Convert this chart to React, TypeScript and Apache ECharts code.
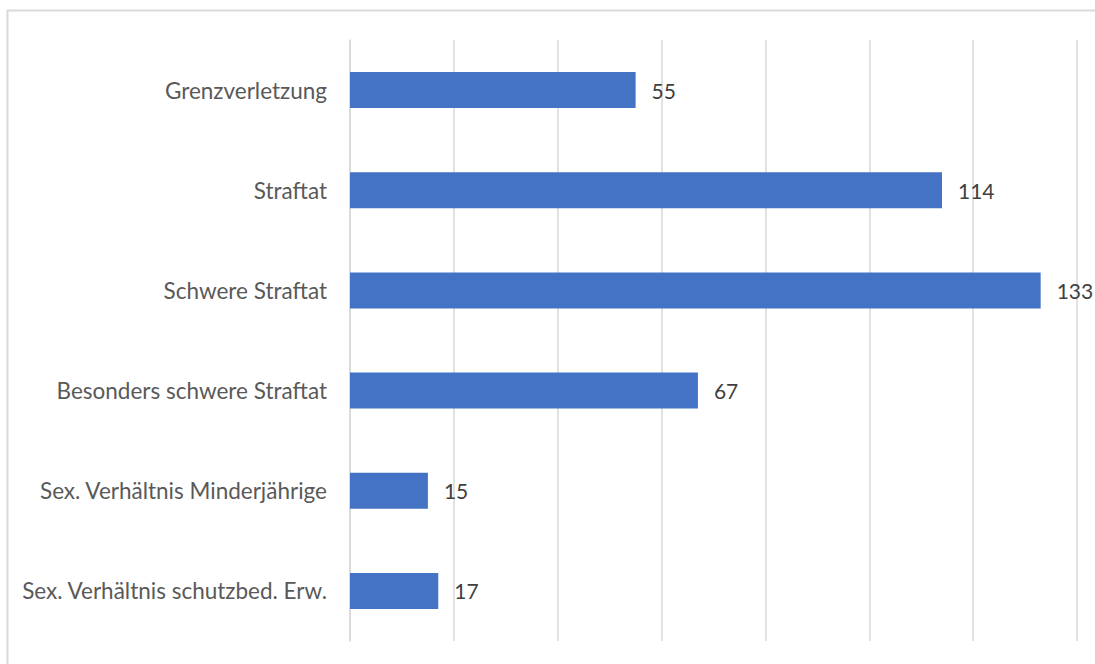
import React, { useEffect, useRef } from "react";
import * as echarts from "echarts";

const categories = [
  "Grenzverletzung",
  "Straftat",
  "Schwere Straftat",
  "Besonders schwere Straftat",
  "Sex. Verhältnis Minderjährige",
  "Sex. Verhältnis schutzbed. Erw.",
];
const values = [55, 114, 133, 67, 15, 17];

export default function App() {
  const ref = useRef<HTMLDivElement>(null);
  useEffect(() => {
    const chart = echarts.init(ref.current!, null, { renderer: "svg" });
    chart.setOption({
      animation: false,
      backgroundColor: "#ffffff",
      textStyle: { fontFamily: "Lato" },
      graphic: [
        {
          type: "rect",
          shape: { x: 7.5, y: 10.5, width: 1200, height: 800 },
          style: { fill: "none", stroke: "#d9d9d9", lineWidth: 2 },
          silent: true,
          z: -1,
        },
      ],
      grid: { left: 350, right: 18, top: 40, bottom: 23 },
      xAxis: {
        type: "value",
        min: 0,
        max: 140,
        interval: 20,
        axisLabel: { show: false },
        axisLine: { show: false },
        axisTick: { show: false },
        splitLine: { show: true, lineStyle: { color: "#d9d9d9", width: 1.5 } },
      },
      yAxis: {
        type: "category",
        inverse: true,
        data: categories,
        axisLine: { show: true, lineStyle: { color: "#d9d9d9", width: 1.5 } },
        axisTick: { show: false },
        axisLabel: { color: "#595959", fontSize: 22.5, margin: 23, fontFamily: "Lato" },
      },
      series: [
        {
          type: "bar",
          data: values,
          barWidth: 36,
          itemStyle: { color: "#4472C4" },
          label: {
            show: true,
            position: "right",
            distance: 16,
            color: "#404040",
            fontSize: 21,
            fontFamily: "Lato",
          },
        },
      ],
    });
    return () => chart.dispose();
  }, []);
  return (
    <div
      ref={ref}
      style={{ position: "fixed", left: 0, top: 0, width: 1095, height: 664 }}
    />
  );
}
